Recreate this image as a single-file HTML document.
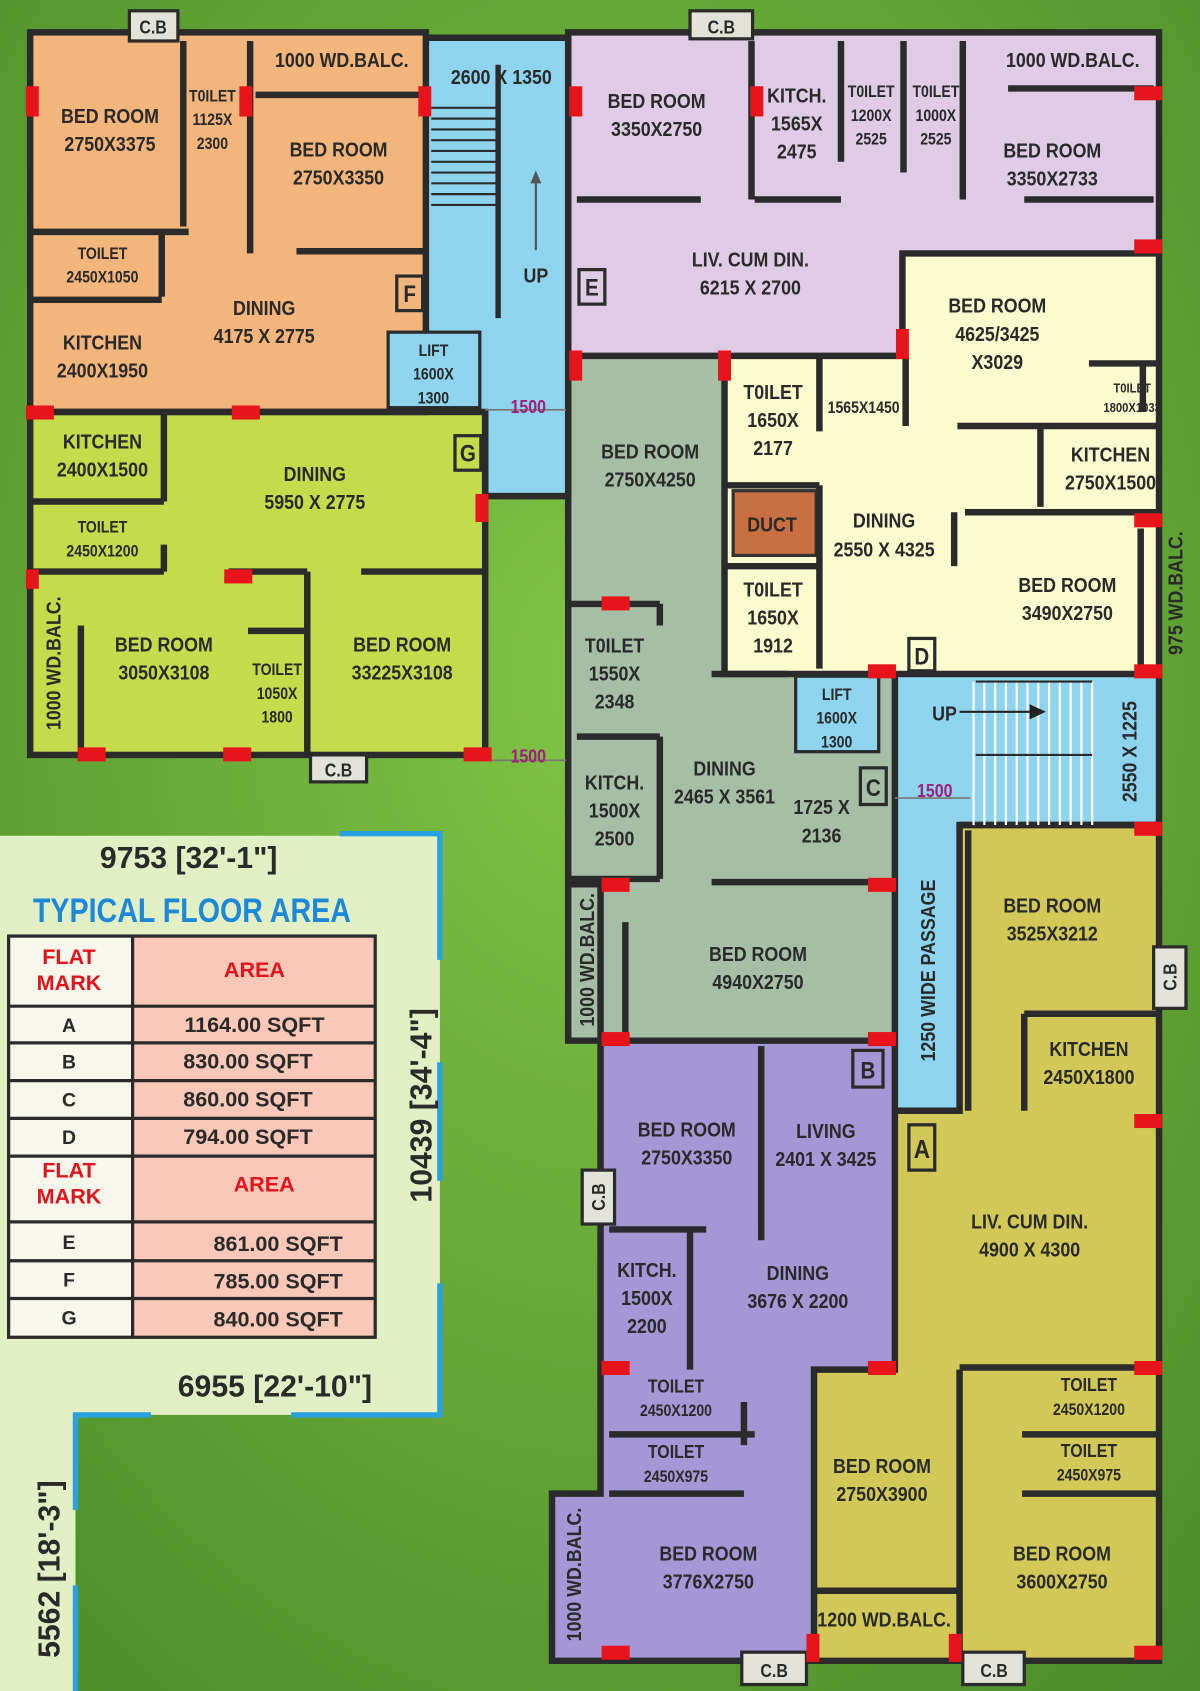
<!DOCTYPE html>
<html><head><meta charset="utf-8"><style>
html,body{margin:0;padding:0;width:1200px;height:1691px;overflow:hidden;background:#5a9a30}
svg{display:block}
text{font-family:"Liberation Sans Narrow","Liberation Sans",sans-serif;font-weight:bold;fill:#2a2a2a;text-anchor:middle}
.s text{transform-box:fill-box;transform-origin:center;transform:scaleX(.87)}
.s{font-size:19px}.xs{font-size:15px}.m{font-size:17px}
</style></head><body>
<svg width="1200" height="1691" viewBox="0 0 1113 1568" preserveAspectRatio="none">
<defs>
<radialGradient id="g" cx="50%" cy="40%" r="80%"><stop offset="0" stop-color="#80c446"/><stop offset="1" stop-color="#4a8a28"/></radialGradient>
</defs>
<rect width="1113" height="1568" fill="url(#g)"/>
<polygon points="0,775 408,775 408,1312 70,1312 70,1568 0,1568" fill="#e2efc4"/>
<path d="M315,773 H408 V890 M408,985 V1095 M408,1190 V1312 H270 M140,1312 H70 V1400 M70,1470 V1568" stroke="#29a0e0" stroke-width="5" fill="none"/>
<rect x="28" y="30" width="367" height="352" fill="#f2b57c"/>
<rect x="28" y="382" width="422" height="318" fill="#c4dc4c"/>
<polygon points="395,35 527,35 527,460 450,460 450,382 395,382" fill="#8ed4ee"/>
<polygon points="527,30 1075,30 1075,235 837,235 837,330 527,330" fill="#dfcbe6"/>
<polygon points="672,330 837,330 837,235 1075,235 1075,625 672,625" fill="#fbfbd0"/>
<polygon points="527,330 672,330 672,625 830,625 830,965 527,965" fill="#a6bea6"/>
<polygon points="830,625 1075,625 1075,765 890,765 890,1030 830,1030" fill="#8ed4ee"/>
<polygon points="890,765 1075,765 1075,1540 755,1540 755,1270 830,1270 830,1030 890,1030" fill="#d2c858"/>
<polygon points="557,965 830,965 830,1270 755,1270 755,1540 512,1540 512,1385 557,1385" fill="#a596d6"/>
<rect x="680" y="455" width="77" height="60" fill="#c87042" stroke="#333" stroke-width="3"/>
<g stroke="#2b2b2b" stroke-width="6" fill="none">
<rect x="28" y="30" width="367" height="352"/>
<rect x="28" y="382" width="422" height="318"/>
<polyline points="395,35 527,35 527,460 450,460 450,382"/>
<polygon points="527,30 1075,30 1075,235 837,235 837,330 527,330"/>
<polyline points="1075,235 1075,625 672,625 672,330"/>
<polyline points="527,330 527,965 830,965 830,625"/>
<polyline points="1075,625 1075,765 890,765 890,1030 830,1030"/>
<polyline points="890,765 1075,765 1075,1540 755,1540 755,1270 830,1270 830,965"/>
<polyline points="557,965 557,1385 512,1385 512,1540 755,1540"/>
<polyline points="527,820 557,820 557,965"/>
<path d="M170,38 V210 M232,38 V235 M30,215 H150 M150,215 V275 M135,215 H175 M30,278 H150 M275,233 H395 M237,88 H395"/>
<path d="M30,465 H152 M152,380 V465 M30,530 H152 M152,505 V530 M212,530 H285 M285,530 V700 M230,585 H285 M335,530 H450 M75,580 V700"/>
<path d="M697,38 V185 M780,38 V150 M893,38 V185 M838,38 V160 M535,185 H650 M700,185 H780 M935,82 H1070 M950,185 H1070"/>
<path d="M760,330 V400 M840,330 V395 M1010,337 H1075 M888,395 H1075 M965,395 V470 M895,475 H1075 M1060,340 V382 M672,450 H760 M760,450 V620 M672,525 H760 M885,475 V525 M660,625 H730 M1058,490 V620"/>
<path d="M527,560 H612 M612,560 V580 M535,683 H612 M612,683 V815 M527,815 H612 M660,818 H830 M580,855 V960"/>
<path d="M898,770 V1030 M950,940 V1030 M950,940 H1075 M890,1268 H1075 M948,1330 H1075 M948,1385 H1075 M890,1270 V1540"/>
<path d="M706,970 V1150 M565,1140 H655 M640,1140 V1270 M565,1330 H700 M565,1385 H690 M690,1300 V1340 M757,1475 H890"/>
</g>
<g stroke="#2b2b2b" stroke-width="2">
<path d="M400,100 H460 M400,110 H460 M400,120 H460 M400,130 H460 M400,140 H460 M400,150 H460 M400,160 H460 M400,170 H460 M400,180 H460 M400,190 H460"/>
<path d="M903,632 V765 M913,632 V765 M923,632 V765 M933,632 V765 M943,632 V765 M953,632 V765 M963,632 V765 M973,632 V765 M983,632 V765 M993,632 V765 M1003,632 V765 M1013,632 V765" stroke="#fff"/>
<path d="M905,632 H1013 M905,700 H1013"/>
</g>
<path d="M462,60 V295" stroke="#2b2b2b" stroke-width="5"/>
<path d="M497,232 V165" stroke="#555" stroke-width="2"/><polygon points="492,170 497,158 502,170" fill="#555"/>
<path d="M890,660 H960" stroke="#222" stroke-width="2"/><polygon points="955,653 970,660 955,667" fill="#222"/>
<path d="M450,380 H525 M450,705 H525 M830,740 H900" stroke="#777" stroke-width="1.5"/>
<g fill="#e2e2d8" stroke="#2b2b2b" stroke-width="3">
<rect x="120" y="10" width="45" height="28"/><rect x="640" y="10" width="58" height="26"/>
<rect x="288" y="700" width="52" height="25"/><rect x="1070" y="878" width="30" height="57"/>
<rect x="540" y="1085" width="30" height="50"/><rect x="688" y="1532" width="60" height="30"/>
<rect x="893" y="1532" width="57" height="30"/>
<rect x="368" y="256" width="24" height="32" fill="none"/><rect x="422" y="404" width="24" height="32" fill="none"/>
<rect x="537" y="250" width="24" height="32" fill="none"/><rect x="843" y="592" width="24" height="30" fill="none"/>
<rect x="798" y="712" width="24" height="34" fill="none"/><rect x="843" y="1043" width="24" height="42" fill="none"/>
<rect x="791" y="974" width="28" height="34" fill="none"/>
</g>
<rect x="360" y="308" width="85" height="70" fill="#8ed4ee" stroke="#2b2b2b" stroke-width="3"/>
<rect x="738" y="627" width="77" height="70" fill="#8ed4ee" stroke="#2b2b2b" stroke-width="3"/>
<g fill="#e8141c">
<rect x="24" y="80" width="12" height="28"/><rect x="222" y="80" width="12" height="28"/><rect x="388" y="80" width="12" height="28"/>
<rect x="24" y="376" width="26" height="13"/><rect x="215" y="376" width="26" height="13"/><rect x="441" y="458" width="12" height="26"/>
<rect x="24" y="528" width="12" height="18"/><rect x="208" y="528" width="26" height="13"/>
<rect x="72" y="693" width="26" height="13"/><rect x="207" y="693" width="26" height="13"/><rect x="430" y="693" width="26" height="13"/>
<rect x="528" y="80" width="12" height="28"/><rect x="696" y="80" width="12" height="28"/><rect x="1052" y="80" width="26" height="13"/>
<rect x="1052" y="222" width="26" height="13"/><rect x="831" y="305" width="12" height="28"/><rect x="528" y="325" width="12" height="28"/><rect x="666" y="325" width="12" height="28"/>
<rect x="1052" y="476" width="26" height="13"/><rect x="1052" y="616" width="26" height="13"/><rect x="805" y="616" width="26" height="13"/>
<rect x="558" y="553" width="26" height="13"/><rect x="558" y="814" width="26" height="13"/><rect x="805" y="814" width="26" height="13"/>
<rect x="558" y="957" width="26" height="13"/><rect x="805" y="957" width="26" height="13"/>
<rect x="1052" y="762" width="26" height="13"/><rect x="1052" y="1033" width="26" height="13"/><rect x="1052" y="1262" width="26" height="13"/>
<rect x="805" y="1262" width="26" height="13"/><rect x="558" y="1262" width="26" height="13"/>
<rect x="558" y="1526" width="26" height="13"/><rect x="748" y="1515" width="12" height="26"/><rect x="880" y="1515" width="12" height="26"/><rect x="1052" y="1526" width="26" height="13"/>
</g>
<g class="s">
<text x="142" y="31" class="m">C.B</text><text x="669" y="31" class="m">C.B</text><text x="314" y="720" class="m">C.B</text>
<text x="718" y="1555" class="m">C.B</text><text x="922" y="1555" class="m">C.B</text>
<text x="102" y="114">BED ROOM</text><text x="102" y="140">2750X3375</text>
<text x="197" y="94" class="xs">T0ILET</text><text x="197" y="116" class="xs">1125X</text><text x="197" y="138" class="xs">2300</text>
<text x="317" y="62">1000 WD.BALC.</text><text x="314" y="145">BED ROOM</text><text x="314" y="171">2750X3350</text>
<text x="95" y="240" class="xs">TOILET</text><text x="95" y="262" class="xs">2450X1050</text>
<text x="245" y="292">DINING</text><text x="245" y="318">4175 X 2775</text>
<text x="95" y="324">KITCHEN</text><text x="95" y="350">2400X1950</text>
<text x="380" y="280" style="font-size:22px">F</text>
<text x="402" y="330" class="xs">LIFT</text><text x="402" y="352" class="xs">1600X</text><text x="402" y="374" class="xs">1300</text>
<text x="465" y="78">2600 X 1350</text><text x="497" y="262">UP</text>
<text x="490" y="383" class="m" style="fill:#a0207a">1500</text><text x="490" y="707" class="m" style="fill:#a0207a">1500</text><text x="867" y="739" class="m" style="fill:#a0207a">1500</text>
<text x="95" y="416">KITCHEN</text><text x="95" y="442">2400X1500</text>
<text x="292" y="446">DINING</text><text x="292" y="472">5950 X 2775</text>
<text x="95" y="494" class="xs">TOILET</text><text x="95" y="516" class="xs">2450X1200</text>
<text x="434" y="428" style="font-size:22px">G</text>
<text x="152" y="604">BED ROOM</text><text x="152" y="630">3050X3108</text>
<text x="257" y="626" class="xs">TOILET</text><text x="257" y="648" class="xs">1050X</text><text x="257" y="670" class="xs">1800</text>
<text x="373" y="604">BED ROOM</text><text x="373" y="630">33225X3108</text>
<g transform="translate(56,615) rotate(-90)"><text x="0" y="0">1000 WD.BALC.</text></g>
<text x="609" y="100">BED ROOM</text><text x="609" y="126">3350X2750</text>
<text x="739" y="95">KITCH.</text><text x="739" y="121">1565X</text><text x="739" y="147">2475</text>
<text x="808" y="90" class="xs">T0ILET</text><text x="808" y="112" class="xs">1200X</text><text x="808" y="134" class="xs">2525</text>
<text x="868" y="90" class="xs">T0ILET</text><text x="868" y="112" class="xs">1000X</text><text x="868" y="134" class="xs">2525</text>
<text x="995" y="62">1000 WD.BALC.</text><text x="976" y="146">BED ROOM</text><text x="976" y="172">3350X2733</text>
<text x="696" y="247">LIV. CUM DIN.</text><text x="696" y="273">6215 X 2700</text>
<text x="549" y="274" style="font-size:22px">E</text>
<text x="925" y="290">BED ROOM</text><text x="925" y="316">4625/3425</text><text x="925" y="342">X3029</text>
<text x="717" y="370">T0ILET</text><text x="717" y="396">1650X</text><text x="717" y="422">2177</text>
<text x="801" y="383" class="xs">1565X1450</text>
<text x="1050" y="364" style="font-size:12px">T0ILET</text><text x="1050" y="382" style="font-size:12px">1800X1033</text>
<text x="1030" y="428">KITCHEN</text><text x="1030" y="454">2750X1500</text>
<text x="716" y="493">DUCT</text>
<text x="820" y="489">DINING</text><text x="820" y="516">2550 X 4325</text>
<text x="717" y="553">T0ILET</text><text x="717" y="579">1650X</text><text x="717" y="605">1912</text>
<text x="990" y="549">BED ROOM</text><text x="990" y="575">3490X2750</text>
<g transform="translate(1097,550) rotate(-90)"><text x="0" y="0">975 WD.BALC.</text></g>
<text x="855" y="616" style="font-size:22px">D</text>
<text x="603" y="425">BED ROOM</text><text x="603" y="451">2750X4250</text>
<text x="570" y="605">T0ILET</text><text x="570" y="631">1550X</text><text x="570" y="657">2348</text>
<text x="672" y="719">DINING</text><text x="672" y="745">2465 X 3561</text>
<text x="762" y="755">1725 X</text><text x="762" y="781">2136</text>
<text x="570" y="732">KITCH.</text><text x="570" y="758">1500X</text><text x="570" y="784">2500</text>
<text x="810" y="738" style="font-size:22px">C</text>
<text x="703" y="891">BED ROOM</text><text x="703" y="917">4940X2750</text>
<g transform="translate(551,890) rotate(-90)"><text x="0" y="0">1000 WD.BALC.</text></g>
<text x="776" y="649" class="xs">LIFT</text><text x="776" y="671" class="xs">1600X</text><text x="776" y="693" class="xs">1300</text>
<text x="876" y="668">UP</text>
<g transform="translate(1054,697) rotate(-90)"><text x="0" y="0">2550 X 1225</text></g>
<g transform="translate(867,900) rotate(-90)"><text x="0" y="0">1250 WIDE PASSAGE</text></g>
<text x="976" y="846">BED ROOM</text><text x="976" y="872">3525X3212</text>
<g transform="translate(1091,906) rotate(-90)"><text x="0" y="0" class="m">C.B</text></g>
<text x="1010" y="979">KITCHEN</text><text x="1010" y="1005">2450X1800</text>
<text x="855" y="1074" style="font-size:24px">A</text>
<text x="955" y="1139">LIV. CUM DIN.</text><text x="955" y="1165">4900 X 4300</text>
<text x="1010" y="1290" class="m">TOILET</text><text x="1010" y="1312" class="xs">2450X1200</text>
<text x="1010" y="1351" class="m">TOILET</text><text x="1010" y="1373" class="xs">2450X975</text>
<text x="818" y="1366">BED ROOM</text><text x="818" y="1392">2750X3900</text>
<text x="985" y="1447">BED ROOM</text><text x="985" y="1473">3600X2750</text>
<text x="820" y="1508">1200 WD.BALC.</text>
<text x="805" y="1000" style="font-size:22px">B</text>
<text x="637" y="1054">BED ROOM</text><text x="637" y="1080">2750X3350</text>
<text x="766" y="1055">LIVING</text><text x="766" y="1081">2401 X 3425</text>
<g transform="translate(561,1110) rotate(-90)"><text x="0" y="0" class="m">C.B</text></g>
<text x="600" y="1184">KITCH.</text><text x="600" y="1210">1500X</text><text x="600" y="1236">2200</text>
<text x="740" y="1187">DINING</text><text x="740" y="1213">3676 X 2200</text>
<text x="627" y="1291" class="m">TOILET</text><text x="627" y="1313" class="xs">2450X1200</text>
<text x="627" y="1352" class="m">TOILET</text><text x="627" y="1374" class="xs">2450X975</text>
<text x="657" y="1447">BED ROOM</text><text x="657" y="1473">3776X2750</text>
<g transform="translate(539,1460) rotate(-90)"><text x="0" y="0">1000 WD.BALC.</text></g>
</g>
<text x="175" y="805" style="font-size:28px">9753 [32'-1"]</text>
<text x="178" y="855" style="font-size:32px;fill:#1e88d8;transform-box:fill-box;transform-origin:center;transform:scaleX(.83)">TYPICAL FLOOR AREA</text>
<text transform="translate(400,1025) rotate(-90)" style="font-size:28px">10439 [34'-4"]</text>
<text x="255" y="1295" style="font-size:28px">6955 [22'-10"]</text>
<text transform="translate(55,1455) rotate(-90)" style="font-size:28px">5562 [18'-3"]</text>
<g stroke="#2b2b2b" stroke-width="3">
<rect x="8" y="868" width="115" height="372" fill="#f7f7ec"/>
<rect x="123" y="868" width="225" height="372" fill="#f9c8b8"/>
<path d="M8,933 H348 M8,967 H348 M8,1002 H348 M8,1037 H348 M8,1072 H348 M8,1133 H348 M8,1169 H348 M8,1204 H348"/>
</g>
<g>
<text x="64" y="894" style="font-size:20px;fill:#e0141c">FLAT</text>
<text x="64" y="918" style="font-size:20px;fill:#e0141c">MARK</text>
<text x="236" y="906" style="font-size:20px;fill:#e0141c">AREA</text>
<text x="64" y="1092" style="font-size:20px;fill:#e0141c">FLAT</text>
<text x="64" y="1116" style="font-size:20px;fill:#e0141c">MARK</text>
<text x="245" y="1105" style="font-size:20px;fill:#e0141c">AREA</text>
<text x="64" y="957" style="font-size:18px">A</text><text x="236" y="957" style="font-size:20px">1164.00 SQFT</text>
<text x="64" y="991" style="font-size:18px">B</text><text x="230" y="991" style="font-size:20px">830.00 SQFT</text>
<text x="64" y="1026" style="font-size:18px">C</text><text x="230" y="1026" style="font-size:20px">860.00 SQFT</text>
<text x="64" y="1061" style="font-size:18px">D</text><text x="230" y="1061" style="font-size:20px">794.00 SQFT</text>
<text x="64" y="1158" style="font-size:18px">E</text><text x="258" y="1160" style="font-size:20px">861.00 SQFT</text>
<text x="64" y="1193" style="font-size:18px">F</text><text x="258" y="1195" style="font-size:20px">785.00 SQFT</text>
<text x="64" y="1228" style="font-size:18px">G</text><text x="258" y="1230" style="font-size:20px">840.00 SQFT</text>
</g>
</svg>
</body></html>
